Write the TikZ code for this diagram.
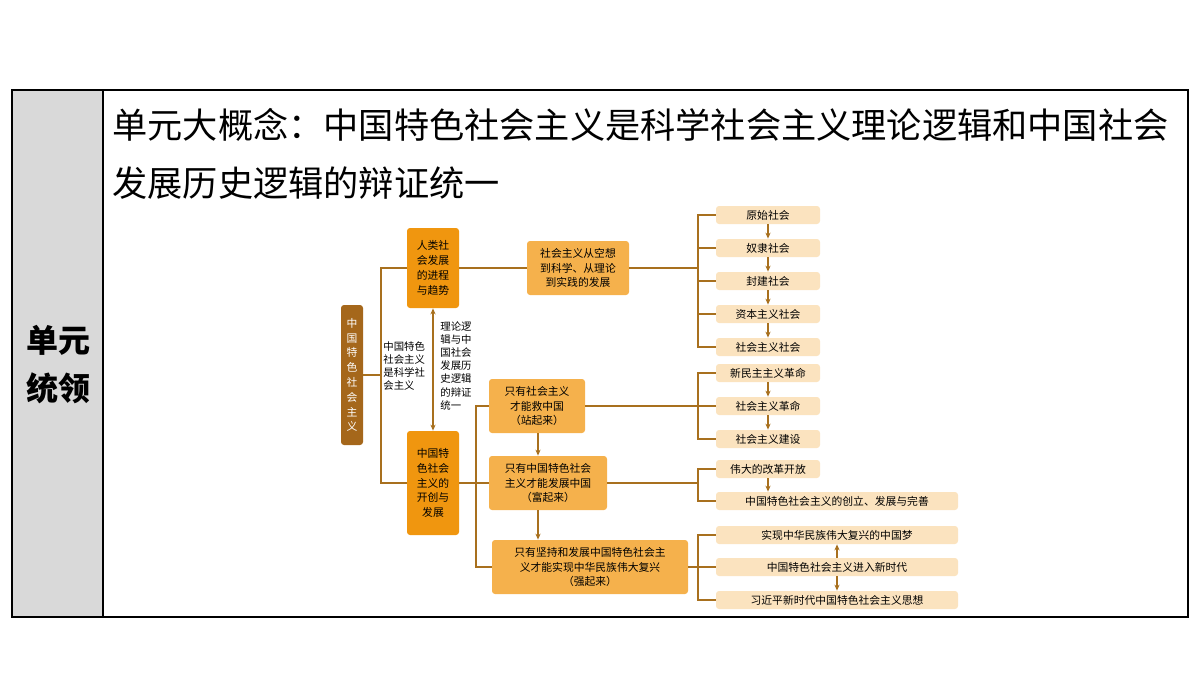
\documentclass[tikz,border=0pt]{standalone}
\usepackage{fontspec}
\setmainfont{Noto Sans CJK SC}
\usetikzlibrary{arrows.meta}
\definecolor{frameg}{HTML}{D9D9D9}
\definecolor{rootc}{HTML}{A5671B}
\definecolor{mainc}{HTML}{F0960F}
\definecolor{subc}{HTML}{F5B14C}
\definecolor{itemc}{HTML}{FBE3BF}
\definecolor{linec}{HTML}{A8701E}
\tikzset{
  box/.style={rounded corners=1.5pt, inner sep=1pt, font=\fontsize{5.4}{7.4}\selectfont, align=center},
  mainbox/.style={box, fill=mainc, minimum width=26pt, minimum height=40pt},
  subbox/.style={box, fill=subc, minimum height=27pt},
  item/.style={box, fill=itemc, minimum height=9pt, minimum width=52pt},
  wideitem/.style={item, minimum width=121pt},
  link/.style={linec, line width=0.6pt},
  arr/.style={link, -{Stealth[length=3pt,width=2.6pt]}},
}
\begin{document}
\begin{tikzpicture}[x=0.5pt,y=-0.5pt]
\useasboundingbox (0,0) rectangle (1200,675);
% frame
\fill[frameg] (12,90) rectangle (103,617);
\draw[line width=0.6pt] (12,90) rectangle (1188,617);
\draw[line width=0.6pt] (103,90) -- (103,617);
\node[font=\fontsize{16}{24}\selectfont\bfseries, align=center] (lead) at (58,365) {单元\\统领};
\node[anchor=west, font=\fontsize{17.6}{29}\selectfont, align=left, inner sep=0] (title) at (112,154)
  {单元大概念：中国特色社会主义是科学社会主义理论逻辑和中国社会\\发展历史逻辑的辩证统一};
% left part
\node[box, fill=rootc, text=white, minimum width=11pt, minimum height=70pt] (root) at (352,375) {中\\国\\特\\色\\社\\会\\主\\义};
\node[mainbox] (A) at (433,268) {人类社\\会发展\\的进程\\与趋势};
\node[mainbox, minimum height=52pt] (B) at (433,483) {中国特\\色社会\\主义的\\开创与\\发展};
\coordinate (j0) at (381,375);
\draw[link] (root.east) -- (j0);
\draw[link] (j0) |- (A.west);
\draw[link] (j0) |- (B.west);
\node[font=\fontsize{5.2}{6.6}\selectfont, align=left, anchor=north west, inner sep=0] (why) at (383,341) {中国特色\\社会主义\\是科学社\\会主义};
\draw[link, {Stealth[length=3pt,width=2.6pt]}-{Stealth[length=3pt,width=2.6pt]}] (A.south) -- (B.north);
\node[font=\fontsize{5.2}{6.6}\selectfont, align=left, anchor=north west, inner sep=0] (logic) at (440,321) {理论逻\\辑与中\\国社会\\发展历\\史逻辑\\的辩证\\统一};
% upper branch
\node[subbox, minimum width=51pt] (C) at (578,268) {社会主义从空想\\到科学、从理论\\到实践的发展};
\draw[link] (A.east) -- (C.west);
\coordinate (j1) at (698,268);
\draw[link] (C.east) -- (j1);
\foreach \t [count=\i] in {原始社会,奴隶社会,封建社会,资本主义社会,社会主义社会} {
  \node[item] (s\i) at (768,{215+33*(\i-1)}) {\t};
  \draw[link] (j1) |- (s\i.west);
}
\foreach \i [evaluate=\i as \j using int(\i+1)] in {1,...,4}
  \draw[arr] (s\i) -- (s\j);
% lower branch
\node[subbox, minimum width=48pt] (D1) at (537,406) {只有社会主义\\才能救中国\\（站起来）};
\node[subbox, minimum width=59pt] (D2) at (548,483) {只有中国特色社会\\主义才能发展中国\\（富起来）};
\node[subbox, minimum width=98pt] (D3) at (590,567) {只有坚持和发展中国特色社会主\\义才能实现中华民族伟大复兴\\（强起来）};
\coordinate (j2) at (476,483);
\draw[link] (B.east) -- (j2);
\draw[link] (j2) |- (D1.west);
\draw[link] (j2) |- (D2.west);
\draw[link] (j2) |- (D3.west);
\draw[arr] (D1.south -| 538,0) -- (D2.north -| 538,0);
\draw[arr] (D2.south -| 538,0) -- (D3.north -| 538,0);
% revolution
\foreach \t [count=\i] in {新民主主义革命,社会主义革命,社会主义建设}
  \node[item] (r\i) at (768,{373+33*(\i-1)}) {\t};
\coordinate (j3) at (698,406);
\draw[link] (D1.east) -- (j3);
\foreach \i in {1,2,3} \draw[link] (j3) |- (r\i.west);
\draw[arr] (r1) -- (r2);
\draw[arr] (r2) -- (r3);
% reform
\node[item] (f1) at (768,469) {伟大的改革开放};
\node[wideitem] (f2) at (837,501) {中国特色社会主义的创立、发展与完善};
\coordinate (j4) at (698,483);
\draw[link] (D2.east) -- (j4);
\draw[link] (j4) |- (f1.west);
\draw[link] (j4) |- (f2.west);
\draw[arr] (f1.south) -- (f1.south |- f2.north);
% new era
\node[wideitem] (n1) at (837,535) {实现中华民族伟大复兴的中国梦};
\node[wideitem] (n2) at (837,567) {中国特色社会主义进入新时代};
\node[wideitem] (n3) at (837,600) {习近平新时代中国特色社会主义思想};
\coordinate (j5) at (698,567);
\draw[link] (D3.east) -- (j5);
\foreach \i in {1,2,3} \draw[link] (j5) |- (n\i.west);
\draw[arr] (n2) -- (n1);
\draw[arr] (n2) -- (n3);
\end{tikzpicture}
\end{document}
